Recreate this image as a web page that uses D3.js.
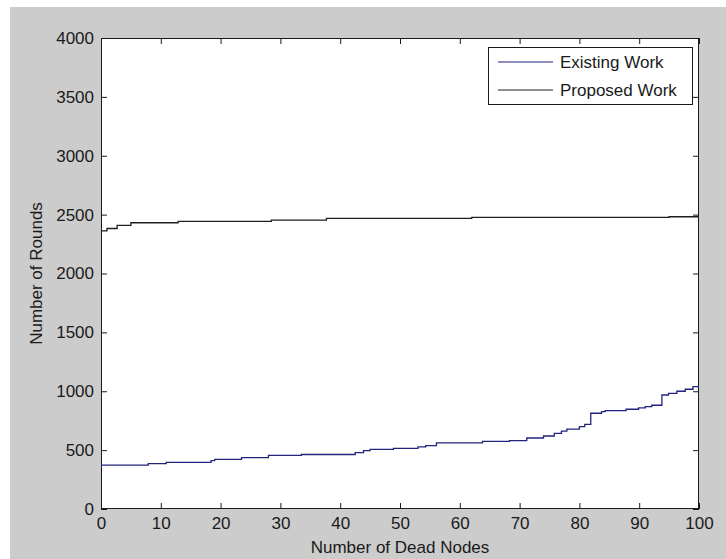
<!DOCTYPE html>
<html>
<head>
<meta charset="utf-8">
<script src="https://cdn.jsdelivr.net/npm/d3@7"></script>
<style>
  html, body { margin: 0; padding: 0; background: #ffffff; }
  svg text { font-family: "Liberation Sans", Arial, sans-serif; fill: #1a1a1a; }
</style>
</head>
<body>
<svg id="chart" width="726" height="559"></svg>
<script>
// ---- data ----
const existingNodes  = [0, 7.9, 10.9, 18.4, 19, 23.5, 28, 33.5, 42.5, 43.9, 45, 48.9, 53, 54.3, 56.1, 63.8, 68.3, 71.2, 74, 75.8, 77, 77.9, 80, 80.9, 81.9, 83.7, 84.3, 87.8, 89.9, 91, 92.1, 93.8, 94.9, 96.3, 97.7, 99, 100];
const existingRounds = [372, 385, 396, 410, 422, 436, 456, 463, 478, 495, 507, 515, 527, 538, 561, 575, 580, 603, 620, 643, 662, 679, 699, 719, 813, 827, 835, 847, 858, 869, 881, 968, 982, 1000, 1017, 1039, 1039];
const proposedNodes  = [0, 1, 2.7, 5, 12.9, 28.5, 37.7, 62, 95, 100];
const proposedRounds = [2362, 2382, 2408, 2431, 2443, 2454, 2468, 2476, 2482, 2482];
const seriesNames  = ["Existing Work", "Proposed Work"];
const seriesColors = ["#23237e", "#1e1e1e"];
const xTicks = [0, 10, 20, 30, 40, 50, 60, 70, 80, 90, 100];
const yTicks = [0, 500, 1000, 1500, 2000, 2500, 3000, 3500, 4000];
const xLabel = "Number of Dead Nodes";
const yLabel = "Number of Rounds";

// ---- layout ----
const svg = d3.select("#chart");
const L = 101, T = 38, R = 699, B = 509;
const FS = 17, TICK = 6;

svg.append("rect").attr("x", 10).attr("y", 7).attr("width", 716).attr("height", 552).attr("fill", "#cccccc");
svg.append("rect").attr("x", L).attr("y", T).attr("width", R - L).attr("height", B - T).attr("fill", "#ffffff");

const x = d3.scaleLinear().domain([0, 100]).range([L, R]);
const y = d3.scaleLinear().domain([0, 4000]).range([B, T]);

// axes (bottom/left with labels; top/right ticks only), ticks inward
const axisColor = "#1a1a1a";
function styleAxis(g) {
  g.select(".domain").remove();
  g.selectAll(".tick line").attr("stroke", axisColor);
  g.selectAll(".tick text").style("font-size", FS + "px").attr("fill", "#1a1a1a");
}
svg.append("g").attr("transform", `translate(0,${B})`)
  .call(d3.axisBottom(x).tickValues(xTicks).tickSizeInner(-TICK).tickSizeOuter(0).tickPadding(8).tickFormat(d3.format("d")))
  .call(styleAxis);
svg.append("g").attr("transform", `translate(0,${T})`)
  .call(d3.axisTop(x).tickValues(xTicks).tickSizeInner(-TICK).tickSizeOuter(0).tickFormat(""))
  .call(styleAxis);
svg.append("g").attr("transform", `translate(${L},0)`)
  .call(d3.axisLeft(y).tickValues(yTicks).tickSizeInner(-TICK).tickSizeOuter(0).tickPadding(7).tickFormat(d3.format("d")))
  .call(styleAxis);
svg.append("g").attr("transform", `translate(${R},0)`)
  .call(d3.axisRight(y).tickValues(yTicks).tickSizeInner(-TICK).tickSizeOuter(0).tickFormat(""))
  .call(styleAxis);

// box
svg.append("rect").attr("x", L + 0.5).attr("y", T + 0.5).attr("width", R - L - 1).attr("height", B - T - 1)
  .attr("fill", "none").attr("stroke", axisColor).attr("stroke-width", 1);

// lines
const line = d3.line().x(d => x(d[0])).y(d => y(d[1])).curve(d3.curveStepAfter);
const series = [
  d3.zip(existingNodes, existingRounds),
  d3.zip(proposedNodes, proposedRounds)
];
svg.append("g").selectAll("path").data(series).join("path")
  .attr("d", line).attr("fill", "none")
  .attr("stroke", (d, i) => seriesColors[i]).attr("stroke-width", 1.3);

// axis labels
svg.append("text").attr("x", (L + R) / 2).attr("y", 553).attr("text-anchor", "middle")
  .style("font-size", FS + "px").text(xLabel);
svg.append("text").attr("transform", `translate(42,${(T + B) / 2}) rotate(-90)`).attr("text-anchor", "middle")
  .style("font-size", FS + "px").text(yLabel);

// legend
const lg = svg.append("g");
lg.append("rect").attr("x", 488.5).attr("y", 47.5).attr("width", 204).attr("height", 57)
  .attr("fill", "#ffffff").attr("stroke", axisColor).attr("stroke-width", 1);
seriesNames.forEach((name, i) => {
  const cy = 62 + i * 28;
  lg.append("line").attr("x1", 498).attr("x2", 553).attr("y1", cy).attr("y2", cy)
    .attr("stroke", seriesColors[i]).attr("stroke-width", 1.2);
  lg.append("text").attr("x", 560).attr("y", cy + 6).style("font-size", FS + "px").text(name);
});
</script>
</body>
</html>
